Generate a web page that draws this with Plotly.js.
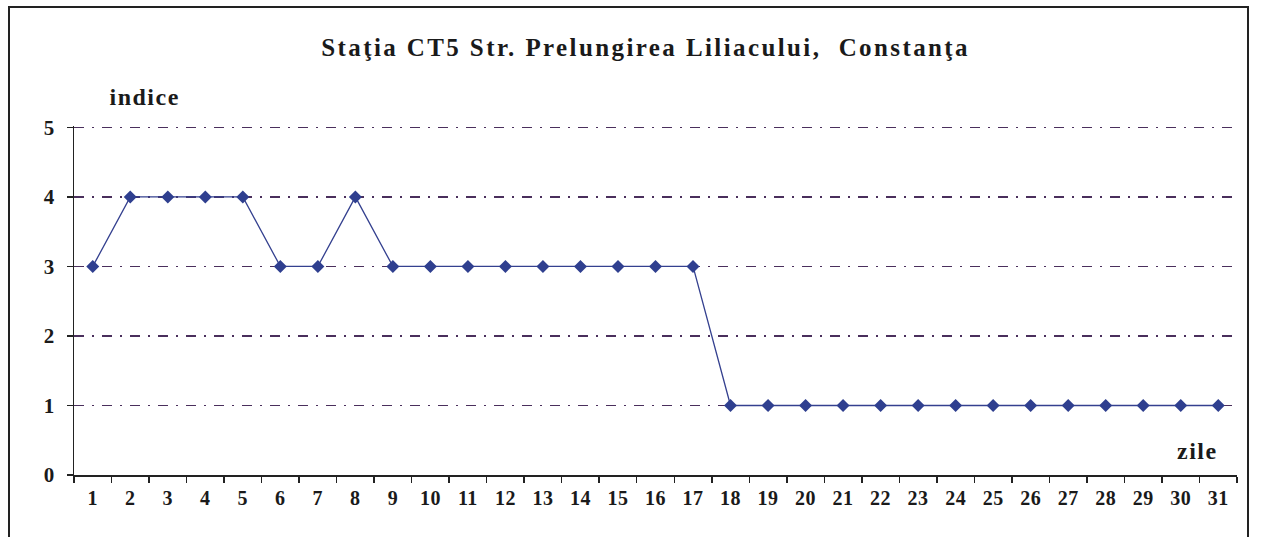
<!DOCTYPE html>
<html><head><meta charset="utf-8">
<script src="https://cdn.plot.ly/plotly-3.0.1.min.js"></script>
<style>
html,body{margin:0;padding:0;background:#fff;}
#wrap{position:relative;width:1261px;height:537px;overflow:hidden;}
#frame{position:absolute;left:8px;top:6px;width:1241px;height:560px;border:2px solid #222;box-sizing:border-box;pointer-events:none;}
#chart{position:absolute;left:0;top:0;width:1261px;height:537px;}
#chart .gtitle{letter-spacing:2.4px;}
#chart .annotation-text{letter-spacing:1.5px;}
#chart .xtick text{letter-spacing:0.5px;}
</style></head>
<body><div id="wrap"><div id="chart"></div><div id="frame"></div></div>
<script>
const days = ["1","2","3","4","5","6","7","8","9","10","11","12","13","14","15","16","17","18","19","20","21","22","23","24","25","26","27","28","29","30","31"];
const indice = [3,4,4,4,4,3,3,4,3,3,3,3,3,3,3,3,3,1,1,1,1,1,1,1,1,1,1,1,1,1,1];
const yTicks = [0,1,2,3,4,5];
const titleText = "Staţia CT5 Str. Prelungirea Liliacului,  Constanţa";
const yLabel = "indice";
const xLabel = "zile";

const font = {family: "Liberation Serif, Times New Roman, serif", color: "#1a1a1a"};
Plotly.newPlot("chart", [{
  x: days, y: indice, type: "scatter", mode: "lines+markers",
  line: {color: "#34408f", width: 1.3},
  marker: {symbol: "diamond", size: 10, color: "#2f3f8f"},
  hoverinfo: "x+y"
}], {
  width: 1261, height: 537,
  margin: {l: 74, r: 24, t: 126, b: 62},
  paper_bgcolor: "#fff", plot_bgcolor: "#fff",
  showlegend: false,
  title: {text: "<b>" + titleText + "</b>", font: Object.assign({}, font, {size: 25}), x: 0.512, xanchor: "center", y: 0.912, yanchor: "middle"},
  xaxis: {
    type: "category", range: [-0.5, 30.5],
    showline: true, linecolor: "#222", linewidth: 1.5,
    ticks: "outside", tickson: "boundaries", ticklen: 6, tickcolor: "#222", tickwidth: 1.5,
    showgrid: false, zeroline: false, ticklabelstandoff: 4,
    tickfont: Object.assign({}, font, {size: 20, weight: "bold"})
  },
  yaxis: {
    range: [0, 5.02], tickvals: yTicks,
    showline: true, linecolor: "#222", linewidth: 1.5,
    ticks: "outside", ticklen: 6, tickcolor: "#222", tickwidth: 1.5,
    showgrid: true, gridcolor: "#4a2f5c", gridwidth: 1.2, griddash: "10px,8px,2px,8px",
    zeroline: false, ticklabelstandoff: 8,
    tickfont: Object.assign({}, font, {size: 21, weight: "bold"})
  },
  annotations: [
    {text: "<b>" + yLabel + "</b>", xref: "paper", yref: "paper", x: 0.061, y: 1.083, xanchor: "center", yanchor: "middle", showarrow: false, font: Object.assign({}, font, {size: 24})},
    {text: "<b>" + xLabel + "</b>", xref: "paper", yref: "paper", x: 0.966, y: 0.069, xanchor: "center", yanchor: "middle", showarrow: false, font: Object.assign({}, font, {size: 24})}
  ]
}, {displayModeBar: false, staticPlot: true});
</script></body></html>
